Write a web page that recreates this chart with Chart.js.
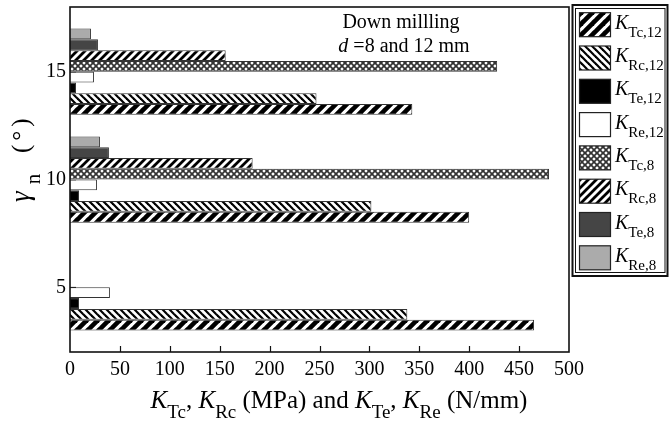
<!DOCTYPE html>
<html>
<head>
<meta charset="utf-8">
<script src="https://cdn.jsdelivr.net/npm/chart.js@4/dist/chart.umd.min.js"></script>
<style>
  html, body { margin: 0; padding: 0; background: #fff; }
  #c { display: block; }
</style>
</head>
<body>
<canvas id="c" width="670" height="423"></canvas>
<script>
// Rake angle γn (degrees) on the vertical axis
const gammaN = [5, 10, 15];

// Cutting (MPa) and edge (N/mm) force coefficients, d = 12 mm
const KTc12 = [465, 400, 343];
const KRc12 = [338, 302, 247];
const KTe12 = [9, 9, 6];
const KRe12 = [40, 27, 24];

// Same coefficients, d = 8 mm (no test at γn = 5°)
const KTc8 = [null, 480, 428];
const KRc8 = [null, 183, 156];
const KTe8 = [null, 39, 28];
const KRe8 = [null, 30, 21];

// Subscripts shown after the italic K in the legend
const seriesSubs = ['Tc,12', 'Rc,12', 'Te,12', 'Re,12', 'Tc,8', 'Rc,8', 'Te,8', 'Re,8'];

const SERIF = '"Liberation Serif", "Times New Roman", serif';

// ---- fill patterns ----
function stripes(size, width, dir, fg, bg) {
  const c = document.createElement('canvas');
  c.width = size; c.height = size;
  const g = c.getContext('2d');
  g.fillStyle = bg; g.fillRect(0, 0, size, size);
  g.strokeStyle = fg; g.lineWidth = width; g.lineCap = 'square';
  for (let k = -1; k <= 1; k++) {
    g.beginPath();
    if (dir === '/') { g.moveTo(k * size, size); g.lineTo(k * size + size, 0); }
    else { g.moveTo(k * size, 0); g.lineTo(k * size + size, size); }
    g.stroke();
  }
  return g.createPattern(c, 'repeat');
}
function crosshatch(size, width, fg, bg) {
  const c = document.createElement('canvas');
  c.width = size; c.height = size;
  const g = c.getContext('2d');
  g.fillStyle = bg; g.fillRect(0, 0, size, size);
  g.strokeStyle = fg; g.lineWidth = width;
  for (let k = -1; k <= 1; k++) {
    g.beginPath(); g.moveTo(k * size, size); g.lineTo(k * size + size, 0); g.stroke();
    g.beginPath(); g.moveTo(k * size, 0); g.lineTo(k * size + size, size); g.stroke();
  }
  return g.createPattern(c, 'repeat');
}

const fills = [
  stripes(11, 4.6, '/', '#000', '#fff'),   // KTc,12
  stripes(7, 2.2, '\\', '#000', '#fff'),   // KRc,12
  '#000',                                  // KTe,12
  '#fff',                                  // KRe,12
  crosshatch(6, 1.7, '#333', '#fff'),      // KTc,8
  stripes(8, 2.8, '/', '#000', '#fff'),    // KRc,8
  '#454545',                               // KTe,8
  '#ababab'                                // KRe,8
];

const seriesValues = [KTc12, KRc12, KTe12, KRe12, KTc8, KRc8, KTe8, KRe8];

const legendOrder = seriesValues.map((vals, i) => ({
  label: 'K' + seriesSubs[i],
  sub: seriesSubs[i],
  data: gammaN.map((g, j) => ({ y: g, x: vals[j] })).filter(p => p.x !== null),
  backgroundColor: fills[i],
  borderColor: '#333',
  borderWidth: 1,
  categoryPercentage: 0.8,
  barPercentage: 1.0
}));

// first dataset sits on top within each group
const datasets = legendOrder.slice().reverse();

// ---- rich text helper (italic K with subscripts) ----
function drawRich(ctx, x, y, segs, align) {
  let total = 0;
  for (const s of segs) { ctx.font = s.font; total += ctx.measureText(s.text).width + (s.gap || 0); }
  let cx = align === 'center' ? x - total / 2 : x;
  for (const s of segs) {
    ctx.font = s.font;
    ctx.fillText(s.text, cx, y + (s.dy || 0));
    cx += ctx.measureText(s.text).width + (s.gap || 0);
  }
}

const frameAndTicks = {
  id: 'frameAndTicks',
  beforeDatasetsDraw(chart) {
    const { ctx, chartArea: a, scales: { y } } = chart;
    ctx.save();
    ctx.strokeStyle = '#111'; ctx.lineWidth = 1.2;
    for (const v of gammaN) {
      const py = Math.round(y.getPixelForValue(v)) + 0.5;
      ctx.beginPath(); ctx.moveTo(a.left, py); ctx.lineTo(a.left + 6, py); ctx.stroke();
    }
    ctx.restore();
  },
  afterDatasetsDraw(chart) {
    const { ctx, chartArea: a, scales: { x } } = chart;
    ctx.save();
    ctx.strokeStyle = '#111'; ctx.lineWidth = 1.6;
    ctx.strokeRect(a.left, a.top, a.right - a.left, a.bottom - a.top);
    ctx.lineWidth = 1.2;
    for (let v = 50; v < 500; v += 50) {
      const px = Math.round(x.getPixelForValue(v)) + 0.5;
      ctx.beginPath(); ctx.moveTo(px, a.bottom); ctx.lineTo(px, a.bottom - 6); ctx.stroke();
    }
    ctx.restore();
  }
};

const annotations = {
  id: 'annotations',
  afterDraw(chart) {
    const ctx = chart.ctx;
    ctx.save();
    ctx.fillStyle = '#000';
    ctx.textBaseline = 'alphabetic';
    ctx.textAlign = 'left';

    // in-plot caption
    const cap = '20px ' + SERIF;
    drawRich(ctx, 401, 28, [{ text: 'Down millling', font: cap }], 'center');
    drawRich(ctx, 404, 52, [
      { text: 'd', font: 'italic 20px ' + SERIF },
      { text: ' =8 and 12 mm', font: cap }
    ], 'center');

    // x-axis title
    const K = 'italic 25px ' + SERIF, M = '25px ' + SERIF, S = '19px ' + SERIF;
    drawRich(ctx, 339, 408, [
      { text: 'K', font: K }, { text: 'Tc', font: S, dy: 10 },
      { text: ', ', font: M },
      { text: 'K', font: K }, { text: 'Rc', font: S, dy: 10 },
      { text: ' (MPa) and ', font: M },
      { text: 'K', font: K }, { text: 'Te', font: S, dy: 10 },
      { text: ', ', font: M },
      { text: 'K', font: K }, { text: 'Re', font: S, dy: 10 },
      { text: ' (N/mm)', font: M }
    ], 'center');

    // y-axis title
    ctx.save();
    ctx.translate(29, 202);
    ctx.rotate(-Math.PI / 2);
    drawRich(ctx, 0, 0, [
      { text: 'γ', font: 'italic 27px ' + SERIF, gap: 7 },
      { text: 'n', font: '21px ' + SERIF, dy: 11, gap: 4 }
    ], 'left');
    ctx.font = '25px ' + SERIF;
    ctx.letterSpacing = '4px';
    ctx.fillText('(°)', 49, 0);
    ctx.letterSpacing = '0px';
    ctx.restore();

    // legend box
    ctx.strokeStyle = '#111';
    ctx.lineWidth = 2;
    ctx.strokeRect(572.5, 5, 95, 271);
    ctx.lineWidth = 1;
    ctx.strokeRect(575.5, 8.5, 89.5, 264);
    legendOrder.forEach((ds, i) => {
      const top = 12.7 + i * 33.3;
      ctx.fillStyle = ds.backgroundColor;
      ctx.fillRect(579.5, top, 31, 24);
      ctx.strokeStyle = '#222'; ctx.lineWidth = 1.2;
      ctx.strokeRect(579.5, top, 31, 24);
      ctx.fillStyle = '#000';
      drawRich(ctx, 615, top + 16, [
        { text: 'K', font: 'italic 20px ' + SERIF },
        { text: ds.sub, font: '15px ' + SERIF, dy: 8 }
      ], 'left');
    });
    ctx.restore();
  }
};

const tickFont = { family: SERIF, size: 20 };

new Chart(document.getElementById('c'), {
  type: 'bar',
  data: { datasets },
  options: {
    indexAxis: 'y',
    responsive: false,
    animation: false,
    devicePixelRatio: 1,
    layout: { autoPadding: false, padding: { left: 0, right: 101, top: 7, bottom: 0 } },
    plugins: { legend: { display: false }, tooltip: { enabled: false } },
    scales: {
      x: {
        type: 'linear', position: 'bottom', min: 0, max: 500,
        grid: { display: false, drawTicks: false },
        border: { display: false },
        ticks: { stepSize: 50, color: '#000', font: tickFont, padding: 6, maxRotation: 0, autoSkip: false },
        afterFit(s) { s.height = 71; s.paddingLeft = 0; s.paddingRight = 0; }
      },
      y: {
        type: 'linear', position: 'left', min: 2, max: 18, offset: false,
        grid: { display: false, drawTicks: false, offset: false },
        border: { display: false },
        ticks: { color: '#000', font: tickFont, padding: 4 },
        afterBuildTicks(s) { s.ticks = gammaN.map(v => ({ value: v })); },
        afterFit(s) { s.width = 70; s.paddingTop = 0; s.paddingBottom = 0; }
      }
    }
  },
  plugins: [frameAndTicks, annotations]
});
</script>
</body>
</html>
